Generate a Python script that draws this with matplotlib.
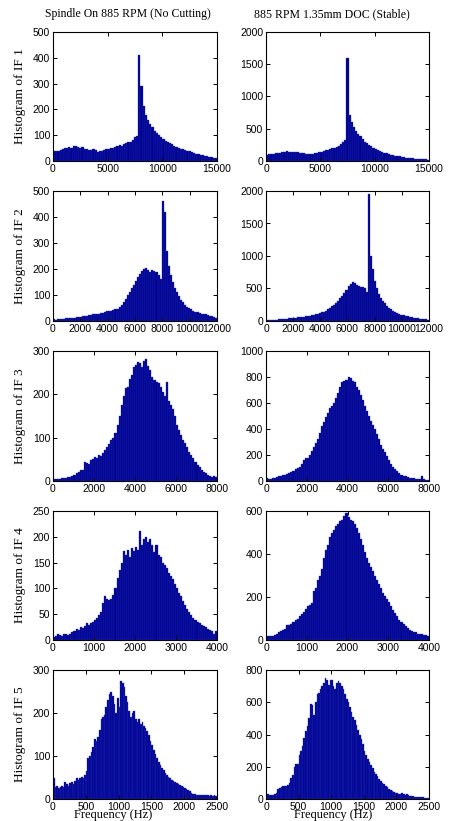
import numpy as np
import matplotlib
matplotlib.use('Agg')
import matplotlib.pyplot as plt

# column titles and row labels
col_titles = ['Spindle On 885 RPM (No Cutting)', '885 RPM 1.35mm DOC (Stable)']
row_labels = ['Histogram of IF 1', 'Histogram of IF 2', 'Histogram of IF 3',
              'Histogram of IF 4', 'Histogram of IF 5']

# frequency ranges (Hz) per row
x_max = [15000, 12000, 8000, 4000, 2500]
x_step = [5000, 2000, 2000, 1000, 500]
# y ranges per panel (left, right)
y_max = [(500, 2000), (500, 2000), (300, 1000), (250, 600), (300, 800)]
y_step = [(100, 500), (100, 500), (100, 200), (50, 200), (100, 200)]

# bin counts
if1_idle = [40, 38, 40, 42, 45, 50, 52, 53, 52, 58, 60, 55, 52, 54, 48, 45, 42, 44, 46, 42,
            36, 38, 40, 42, 45, 48, 50, 52, 55, 58, 62, 60, 64, 68, 72, 75, 82, 92, 95, 410,
            290, 215, 180, 160, 145, 130, 118, 108, 100, 92, 85, 78, 72, 68, 64, 60, 56, 52, 48, 45,
            42, 40, 38, 35, 30, 28, 26, 25, 22, 20, 18, 16, 14, 12, 10]
if1_cut = [100, 105, 108, 112, 118, 125, 130, 135, 140, 150, 145, 140, 138, 142, 135, 125, 120, 118, 115, 112,
           110, 112, 118, 125, 135, 145, 155, 165, 175, 185, 195, 205, 220, 240, 260, 290, 330, 1600, 720, 600,
           530, 470, 420, 380, 340, 300, 275, 250, 225, 205, 185, 170, 155, 140, 130, 118, 108, 100, 92, 85,
           78, 70, 65, 58, 52, 48, 45, 42, 38, 35, 32, 30, 28, 25, 22]

if2_idle = [8, 5, 6, 7, 8, 9, 10, 11, 12, 12, 13, 14, 15, 17, 18, 19, 20, 22, 23, 25,
            26, 27, 28, 30, 32, 35, 37, 40, 38, 42, 45, 48, 52, 60, 72, 85, 100, 112, 125, 140,
            155, 168, 180, 192, 200, 205, 195, 190, 198, 192, 188, 175, 160, 460, 420, 270, 210, 175, 150, 125,
            110, 95, 82, 72, 62, 55, 50, 45, 40, 36, 33, 30, 28, 27, 25, 22, 20, 18, 15, 12]
if2_cut = [15, 12, 14, 16, 18, 20, 24, 28, 30, 33, 36, 40, 44, 48, 50, 54, 58, 62, 66, 70,
           75, 80, 86, 92, 100, 110, 120, 132, 145, 160, 180, 200, 225, 250, 280, 310, 350, 390, 430, 480,
           540, 570, 600, 580, 560, 540, 520, 530, 510, 450, 1950, 1000, 800, 620, 500, 420, 360, 310, 270, 235,
           205, 180, 160, 140, 125, 110, 98, 88, 78, 70, 62, 55, 50, 45, 40, 36, 32, 28, 25, 22]

if3_idle = [5, 5, 4, 5, 6, 6, 7, 9, 10, 12,
            15, 18, 20, 25, 26, 45, 42, 40, 48, 50,
            55, 52, 60, 58, 65, 72, 78, 85, 95, 100,
            110, 130, 150, 175, 195, 215, 218, 235, 245, 262,
            268, 275, 272, 262, 278, 282, 265, 255, 240, 232,
            228, 225, 218, 205, 195, 228, 185, 175, 165, 150,
            130, 118, 105, 95, 88, 78, 68, 60, 52, 45,
            38, 32, 26, 20, 18, 15, 12, 10, 12, 10]
if3_cut = [20, 15, 18, 22, 25, 30, 35, 40, 45, 50,
           55, 60, 70, 80, 90, 100, 110, 130, 160, 175,
           180, 200, 230, 260, 290, 320, 370, 420, 450, 490,
           520, 560, 580, 600, 640, 680, 720, 760, 770, 775,
           800, 790, 770, 760, 720, 700, 660, 620, 580, 540,
           500, 460, 430, 400, 360, 320, 280, 250, 220, 190,
           160, 130, 110, 90, 75, 60, 50, 40, 35, 30,
           25, 22, 20, 18, 15, 12, 35, 12, 10, 8]

if4_idle = [5, 8, 12, 10, 8, 12, 12, 10, 12, 15,
            18, 22, 20, 25, 24, 28, 32, 30, 33, 35,
            38, 42, 48, 55, 72, 85, 80, 78, 80, 88,
            100, 120, 135, 150, 172, 165, 175, 160, 178, 172,
            180, 175, 212, 185, 195, 200, 190, 195, 185, 170,
            185, 165, 160, 150, 145, 140, 130, 125, 118, 108,
            100, 92, 85, 75, 68, 60, 55, 48, 42, 38,
            35, 32, 30, 28, 25, 22, 20, 18, 12, 18]
if4_cut = [20, 18, 18, 20, 24, 28, 35, 42, 45, 50,
           70, 68, 75, 85, 95, 100, 110, 120, 130, 145,
           160, 165, 170, 230, 240, 280, 300, 330, 380, 420,
           440, 480, 500, 510, 530, 540, 555, 560, 575, 590,
           570, 560, 555, 540, 520, 500, 470, 440, 410, 380,
           360, 340, 320, 300, 280, 260, 240, 220, 205, 190,
           175, 160, 140, 125, 110, 95, 85, 75, 65, 55,
           48, 42, 38, 35, 30, 28, 26, 24, 22, 20]

if5_idle = [50, 28, 30, 25, 27, 30, 28, 40, 35, 30,
            38, 40, 35, 42, 48, 45, 48, 52, 50, 55,
            65, 95, 100, 110, 120, 140, 135, 145, 160, 185,
            190, 195, 215, 230, 245, 250, 240, 220, 200, 235,
            215, 275, 270, 260, 240, 225, 205, 190, 200, 205,
            185, 180, 185, 175, 180, 170, 165, 158, 150, 135,
            125, 115, 105, 95, 85, 80, 72, 68, 60, 55,
            52, 48, 45, 42, 40, 38, 35, 32, 30, 28,
            26, 24, 20, 18, 15, 12, 12, 10, 10, 10,
            10, 10, 10, 9, 10, 8, 9, 8, 10, 8]
if5_cut = [30, 28, 25, 25, 22, 28, 40, 65, 70, 75,
           80, 82, 80, 85, 100, 130, 150, 200, 215, 220,
           270, 300, 330, 380, 420, 450, 500, 590, 580, 520,
           600, 650, 660, 680, 700, 720, 750, 740, 710, 740,
           740, 700, 680, 720, 730, 720, 700, 680, 650, 620,
           600, 570, 540, 510, 490, 460, 430, 400, 370, 340,
           300, 270, 250, 230, 210, 190, 170, 155, 140, 125,
           110, 100, 90, 82, 75, 65, 58, 50, 45, 40,
           36, 32, 30, 35, 28, 25, 30, 22, 20, 18,
           16, 15, 14, 12, 12, 10, 10, 9, 8, 8]

counts = [(if1_idle, if1_cut), (if2_idle, if2_cut), (if3_idle, if3_cut),
          (if4_idle, if4_cut), (if5_idle, if5_cut)]

plt.rcParams['font.family'] = ['Liberation Sans', 'DejaVu Sans']
fig = plt.figure(figsize=(4.52, 8.21), dpi=100)

W, H = 452, 821
col_x = [(53, 217), (266, 429)]
row_y = [(32, 161), (191, 321), (351, 481), (511, 640), (670, 799)]

face = (0, 0, 0.56)
edge = '#2233b8'

for r in range(5):
    y0, y1 = row_y[r]
    for c in range(2):
        x0, x1 = col_x[c]
        ax = fig.add_axes([x0 / W, 1 - y1 / H, (x1 - x0) / W, (y1 - y0) / H])
        vals = np.array(counts[r][c])
        edges = np.linspace(0, x_max[r], len(vals) + 1)
        ax.bar(edges[:-1], vals, width=np.diff(edges), align='edge',
               color=face, edgecolor=edge, linewidth=0.25)
        ax.set_xlim(0, x_max[r])
        ax.set_ylim(0, y_max[r][c])
        ax.set_xticks(np.arange(0, x_max[r] + 1, x_step[r]))
        ax.set_yticks(np.arange(0, y_max[r][c] + 1, y_step[r][c]))
        ax.tick_params(direction='in', length=3, width=0.7, labelsize=7.5,
                       top=True, right=True, pad=2)
        for s in ax.spines.values():
            s.set_linewidth(0.8)
    fig.text(20 / W, 1 - (y0 + y1) / 2 / H, row_labels[r], rotation=90,
             ha='center', va='center', family='Liberation Serif', fontsize=9.5)

fig.text(128 / W, 1 - 14 / H, col_titles[0], ha='center', va='center',
         family='Liberation Serif', fontsize=8.5)
fig.text(332 / W, 1 - 14 / H, col_titles[1], ha='center', va='center',
         family='Liberation Serif', fontsize=8.5)
fig.text(113 / W, 1 - 815 / H, 'Frequency (Hz)', ha='center', va='center',
         family='Liberation Serif', fontsize=9)
fig.text(333 / W, 1 - 815 / H, 'Frequency (Hz)', ha='center', va='center',
         family='Liberation Serif', fontsize=9)

fig.savefig('out.png', dpi=100)
